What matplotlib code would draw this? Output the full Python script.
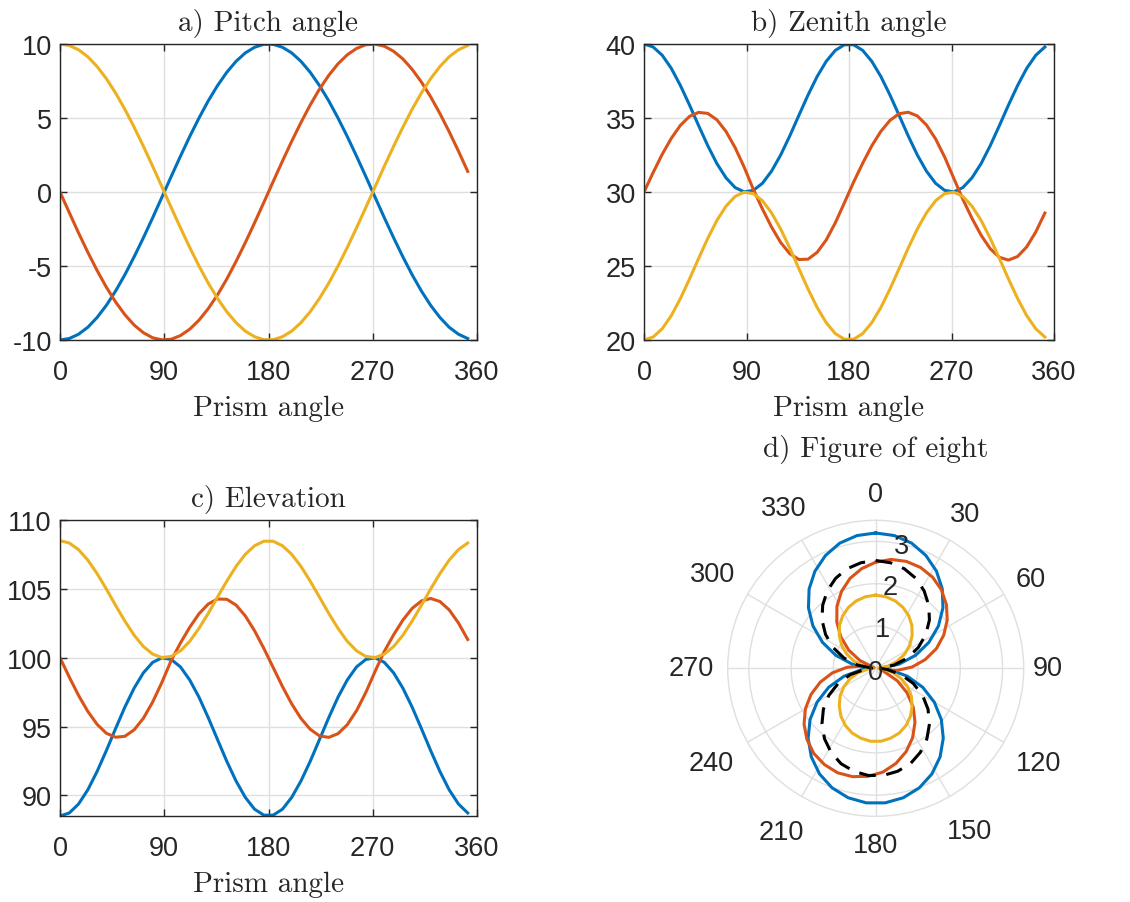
import numpy as np
import matplotlib
matplotlib.use('Agg')
import matplotlib.pyplot as plt

plt.rcParams['font.family'] = ['Liberation Sans', 'DejaVu Sans']
plt.rcParams['axes.unicode_minus'] = False

# prism angle (deg), sampled every 8 deg
prism = list(range(0, 360, 8))

# a) pitch angle
pitch_blue = [-10, -9.9, -9.61, -9.14, -8.48, -7.66, -6.69, -5.59, -4.38, -3.09, -1.74, -0.35,
              1.05, 2.42, 3.75, 5.0, 6.16, 7.19, 8.09, 8.83, 9.4, 9.78, 9.98, 9.98, 9.78, 9.4,
              8.83, 8.09, 7.19, 6.16, 5.0, 3.75, 2.42, 1.05, -0.35, -1.74, -3.09, -4.38, -5.59,
              -6.69, -7.66, -8.48, -9.14, -9.61, -9.9]
pitch_red = [0, -1.39, -2.76, -4.07, -5.3, -6.43, -7.43, -8.29, -8.99, -9.51, -9.85, -9.99,
             -9.95, -9.7, -9.27, -8.66, -7.88, -6.95, -5.88, -4.69, -3.42, -2.08, -0.7, 0.7,
             2.08, 3.42, 4.69, 5.88, 6.95, 7.88, 8.66, 9.27, 9.7, 9.95, 9.99, 9.85, 9.51, 8.99,
             8.29, 7.43, 6.43, 5.3, 4.07, 2.76, 1.39]
pitch_yellow = [10, 9.9, 9.61, 9.14, 8.48, 7.66, 6.69, 5.59, 4.38, 3.09, 1.74, 0.35,
                -1.05, -2.42, -3.75, -5.0, -6.16, -7.19, -8.09, -8.83, -9.4, -9.78, -9.98,
                -9.98, -9.78, -9.4, -8.83, -8.09, -7.19, -6.16, -5.0, -3.75, -2.42, -1.05, 0.35,
                1.74, 3.09, 4.38, 5.59, 6.69, 7.66, 8.48, 9.14, 9.61, 9.9]

# b) zenith angle
zen_blue = [40, 39.8, 39.24, 38.35, 37.19, 35.87, 34.48, 33.13, 31.92, 30.96, 30.3, 30.01,
            30.11, 30.59, 31.41, 32.5, 33.79, 35.18, 36.55, 37.8, 38.83, 39.57, 39.95, 39.95,
            39.57, 38.83, 37.8, 36.55, 35.18, 33.79, 32.5, 31.41, 30.59, 30.11, 30.01, 30.3,
            30.96, 31.92, 33.13, 34.48, 35.87, 37.19, 38.35, 39.24, 39.8]
zen_red = [30, 31.31, 32.55, 33.63, 34.51, 35.11, 35.38, 35.31, 34.88, 34.09, 33.0, 31.67,
           30.18, 28.85, 27.63, 26.59, 25.83, 25.44, 25.46, 25.92, 26.76, 27.92, 29.28, 30.66,
           31.94, 33.12, 34.1, 34.84, 35.29, 35.39, 35.14, 34.53, 33.59, 32.36, 30.93, 29.5,
           28.22, 27.08, 26.17, 25.59, 25.4, 25.64, 26.29, 27.3, 28.58]
zen_yellow = [20, 20.2, 20.76, 21.65, 22.81, 24.13, 25.52, 26.87, 28.08, 29.04, 29.7, 29.99,
              29.89, 29.41, 28.59, 27.5, 26.21, 24.82, 23.45, 22.2, 21.17, 20.43, 20.05, 20.05,
              20.43, 21.17, 22.2, 23.45, 24.82, 26.21, 27.5, 28.59, 29.41, 29.89, 29.99, 29.7,
              29.04, 28.08, 26.87, 25.52, 24.13, 22.81, 21.65, 20.76, 20.2]

# c) elevation
elev_blue = [88.5, 88.72, 89.37, 90.4, 91.73, 93.25, 94.85, 96.41, 97.79, 98.9, 99.66, 99.99,
             99.87, 99.33, 98.38, 97.13, 95.64, 94.05, 92.47, 91.04, 89.85, 88.99, 88.56, 88.56,
             88.99, 89.85, 91.04, 92.47, 94.05, 95.64, 97.13, 98.38, 99.33, 99.87, 99.99, 99.66,
             98.9, 97.79, 96.41, 94.85, 93.25, 91.73, 90.4, 89.37, 88.72]
elev_red = [100, 98.59, 97.26, 96.1, 95.16, 94.51, 94.22, 94.29, 94.76, 95.6, 96.78, 98.21,
            99.8, 101.07, 102.21, 103.19, 103.9, 104.26, 104.24, 103.82, 103.03, 101.95, 100.67,
            99.29, 97.91, 96.65, 95.59, 94.8, 94.32, 94.21, 94.48, 95.13, 96.15, 97.47, 99.0,
            100.46, 101.66, 102.73, 103.58, 104.12, 104.3, 104.08, 103.47, 102.52, 101.32]
elev_yellow = [108.5, 108.33, 107.85, 107.09, 106.11, 104.99, 103.8, 102.66, 101.63, 100.81,
               100.26, 100.01, 100.09, 100.5, 101.19, 102.13, 103.22, 104.4, 105.56, 106.63,
               107.51, 108.13, 108.46, 108.46, 108.13, 107.51, 106.63, 105.56, 104.4, 103.22,
               102.13, 101.19, 100.5, 100.09, 100.01, 100.26, 100.81, 101.63, 102.66, 103.8,
               104.99, 106.11, 107.09, 107.85, 108.33]

# d) figure of eight (polar, deg)
theta = list(range(0, 361, 8))
r_blue = [3.2, 3.17, 3.08, 2.92, 2.71, 2.45, 2.14, 1.79, 1.4, 0.99, 0.56, 0.11, 0.34, 0.77,
          1.2, 1.6, 1.97, 2.3, 2.59, 2.83, 3.01, 3.13, 3.19, 3.19, 3.13, 3.01, 2.83, 2.59, 2.3,
          1.97, 1.6, 1.2, 0.77, 0.34, 0.11, 0.56, 0.99, 1.4, 1.79, 2.14, 2.45, 2.71, 2.92, 3.08,
          3.17, 3.2]
r_red = [2.51, 2.6, 2.63, 2.61, 2.54, 2.42, 2.25, 2.04, 1.79, 1.51, 1.19, 0.86, 0.5, 0.14,
         0.23, 0.59, 0.94, 1.28, 1.58, 1.86, 2.1, 2.3, 2.46, 2.56, 2.62, 2.63, 2.58, 2.49, 2.34,
         2.15, 1.92, 1.65, 1.35, 1.03, 0.68, 0.32, 0.04, 0.41, 0.77, 1.11, 1.43, 1.73, 1.99,
         2.21, 2.38, 2.51]
r_yellow = [1.73, 1.71, 1.66, 1.58, 1.47, 1.33, 1.16, 0.97, 0.76, 0.53, 0.3, 0.06, 0.18, 0.42,
            0.65, 0.87, 1.07, 1.24, 1.4, 1.53, 1.63, 1.69, 1.73, 1.73, 1.69, 1.63, 1.53, 1.4,
            1.24, 1.07, 0.87, 0.65, 0.42, 0.18, 0.06, 0.3, 0.53, 0.76, 0.97, 1.16, 1.33, 1.47,
            1.58, 1.66, 1.71, 1.73]
r_black = [2.55, 2.52, 2.45, 2.33, 2.16, 1.95, 1.71, 1.43, 1.12, 0.79, 0.44, 0.09, 0.27, 0.62,
           0.96, 1.28, 1.57, 1.83, 2.06, 2.25, 2.4, 2.49, 2.54, 2.54, 2.49, 2.4, 2.25, 2.06,
           1.83, 1.57, 1.28, 0.96, 0.62, 0.27, 0.09, 0.44, 0.79, 1.12, 1.43, 1.71, 1.95, 2.16,
           2.33, 2.45, 2.52, 2.55]

theta_ticks = list(range(0, 360, 30))
theta_label_r = [4.12, 4.22, 4.23, 4.08, 4.46, 4.44, 4.19, 4.47, 4.5, 4.37, 4.46, 4.37]

BLUE, RED, YELLOW = '#0072BD', '#D95319', '#EDB120'
DARK = '#262626'
GRIDC = '#dfdfdf'
W, H = 1130, 903
TICKFS = 19.5
SERIFFS = 21

fig = plt.figure(figsize=(11.3, 9.03), dpi=100)


def cart(left, top, right, bottom, title, ylim, yticks, series):
    ax = fig.add_axes([left / W, 1 - bottom / H, (right - left) / W, (bottom - top) / H])
    for y, c in zip(series, (BLUE, RED, YELLOW)):
        ax.plot(prism, y, color=c, lw=2.2)
    ax.set_xlim(0, 360)
    ax.set_xticks([0, 90, 180, 270, 360])
    ax.set_ylim(*ylim)
    ax.set_yticks(yticks)
    ax.grid(True, color=GRIDC, lw=1)
    ax.set_axisbelow(True)
    ax.tick_params(direction='in', length=5, width=1, top=True, right=True,
                   labelsize=TICKFS, colors=DARK)
    ax.tick_params(axis='x', pad=13.5)
    ax.tick_params(axis='y', pad=6)
    for s in ax.spines.values():
        s.set_color(DARK)
        s.set_linewidth(1)
    ax.set_title(title, fontfamily='cmr10', fontsize=SERIFFS, pad=10, color=DARK)
    ax.set_xlabel('Prism angle', fontfamily='cmr10', fontsize=SERIFFS, labelpad=7, color=DARK)
    return ax


cart(60, 45, 477, 341, 'a) Pitch angle', (-10, 10), [-10, -5, 0, 5, 10],
     [pitch_blue, pitch_red, pitch_yellow])
cart(644, 45, 1054, 341, 'b) Zenith angle', (20, 40), [20, 25, 30, 35, 40],
     [zen_blue, zen_red, zen_yellow])
cart(60, 521, 477, 817, 'c) Elevation', (88.5, 110), [90, 95, 100, 105, 110],
     [elev_blue, elev_red, elev_yellow])

# polar panel
cx, cy, R = 875.7, 669.3, 148
axp = fig.add_axes([(cx - R) / W, (H - cy - R) / H, 2 * R / W, 2 * R / H], projection='polar')
axp.set_theta_zero_location('N')
axp.set_theta_direction(-1)
th = np.deg2rad(theta)
axp.plot(th, r_blue, color=BLUE, lw=2.2)
axp.plot(th, r_red, color=RED, lw=2.2)
axp.plot(th, r_yellow, color=YELLOW, lw=2.2)
axp.plot(th, r_black, color='black', lw=2.2, dashes=(5.5, 3.5))
axp.set_rlim(0, 3.5)
axp.set_yticks([1, 2, 3])
axp.set_yticklabels([])
axp.set_xticks(np.deg2rad(theta_ticks))
axp.set_xticklabels([])
axp.grid(True, color=GRIDC, lw=1)
axp.spines['polar'].set_color(GRIDC)
axp.spines['polar'].set_linewidth(1)
for t, rr in zip(theta_ticks, theta_label_r):
    axp.text(np.deg2rad(t), rr, str(t), ha='center', va='center', fontsize=TICKFS,
             color=DARK, clip_on=False)
for rv, ang, rpos in [(1, 9.5, 0.94), (2, 10, 1.95), (3, 12, 2.96)]:
    axp.text(np.deg2rad(ang), rpos, str(rv), ha='center', va='center', fontsize=TICKFS,
             color=DARK)
axp.annotate('0', (0, 0), xytext=(0, -3), textcoords='offset points', ha='center',
             va='center', fontsize=TICKFS, color=DARK)
axp.set_title('d) Figure of eight', fontfamily='cmr10', fontsize=SERIFFS, color=DARK,
              y=1 + 64 / 296, pad=0)

fig.savefig('out.png', dpi=100)
